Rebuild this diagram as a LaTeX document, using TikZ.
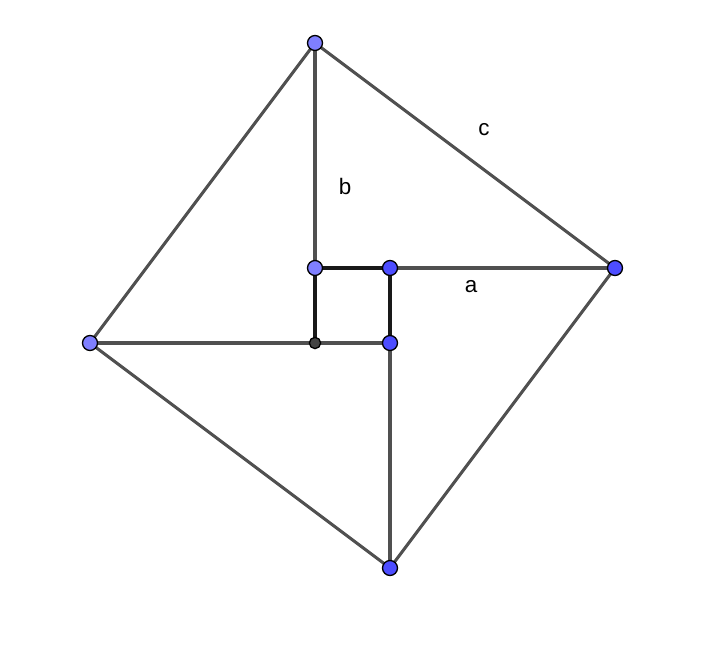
\documentclass[tikz,border=0pt]{standalone}
\usepackage{fontspec}
\setmainfont{Liberation Sans}
\usepackage{tikz}
\usetikzlibrary{calc}
\definecolor{segmentgray}{HTML}{505050}
\definecolor{freeblue}{HTML}{7F7FFF}
\definecolor{depblue}{HTML}{4D4DFF}
\definecolor{pointgray}{HTML}{444444}
\tikzset{
    segment/.style={segmentgray, line width=1.15pt},
    innerside/.style={black!90, line width=1.5pt},
    freept/.style={fill=freeblue, draw=black, line width=0.5pt},
    deppt/.style={fill=depblue, draw=black, line width=0.5pt},
    sidelabel/.style={font=\fontsize{8.5}{10}\selectfont, inner sep=0pt}
}

\begin{document}
\begin{tikzpicture}[scale=1.0]
    \def\ptsize{0.1}
    \useasboundingbox (-4.2,-4.0133) rectangle (5.2133,4.5733);
    % Corners of the big square
    \coordinate (T) at (0,4);
    \coordinate (R) at (4,1);
    \coordinate (B) at (1,-3);
    \coordinate (L) at (-3,0);
    % Corners of the small square
    \coordinate (Q1) at (0,0);
    \coordinate (Q2) at (1,0);
    \coordinate (Q3) at (1,1);
    \coordinate (Q4) at (0,1);
    % Outer square
    \draw[segment] (T) -- (R) -- (B) -- (L) -- cycle;
    % Legs of the four triangles
    \draw[segment] (T) -- (Q4);
    \draw[segment] (R) -- (Q3);
    \draw[segment] (B) -- (Q2);
    \draw[segment] (L) -- (Q1) -- (Q2);
    % Small square
    \draw[innerside] (Q1) -- (Q4) -- (Q3) -- (Q2);
    % Points
    \foreach \p in {T, L, Q4} {
        \filldraw[freept] (\p) circle (\ptsize);
    }
    \foreach \p in {R, B, Q2, Q3} {
        \filldraw[deppt] (\p) circle (\ptsize);
    }
    \filldraw[fill=pointgray, draw=black, line width=0.5pt] (Q1) circle (0.075);
    % Side labels
    \node[sidelabel] (labc) at (2.253, 2.84) {c};
    \node[sidelabel] (labb) at (0.4, 2.093) {b};
    \node[sidelabel] (laba) at (2.08, 0.747) {a};
\end{tikzpicture}
\end{document}
